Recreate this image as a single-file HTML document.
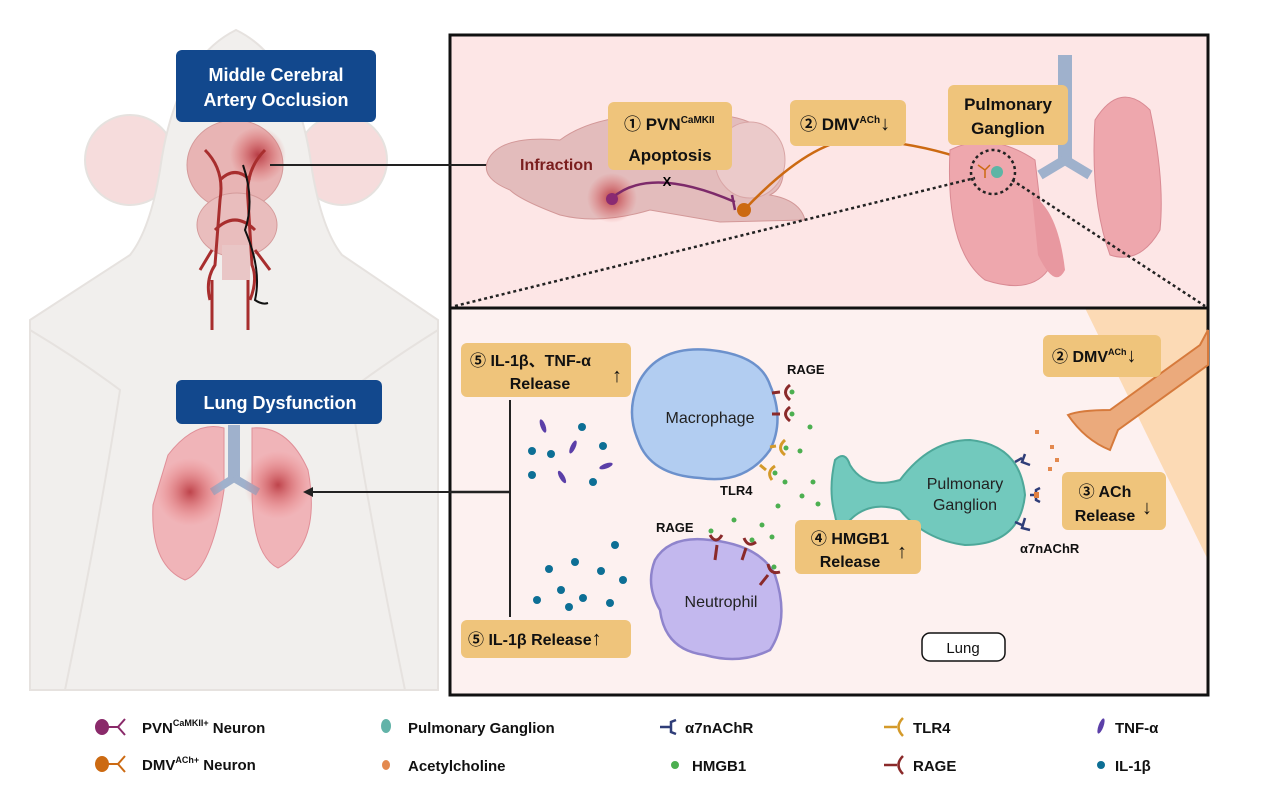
<!DOCTYPE html>
<html><head><meta charset="utf-8"><style>
html,body{margin:0;padding:0;background:#fff;}
svg{display:block;font-family:"Liberation Sans","Noto Sans CJK SC",sans-serif;}
.b{font-weight:bold;fill:#111;}
</style></head><body>
<svg width="1268" height="802" viewBox="0 0 1268 802" xmlns="http://www.w3.org/2000/svg">
<defs>
<radialGradient id="inf" cx="0.5" cy="0.5" r="0.5"><stop offset="0" stop-color="#b2303a" stop-opacity="0.9"/><stop offset="1" stop-color="#d55" stop-opacity="0"/></radialGradient>
<radialGradient id="lg" cx="0.5" cy="0.5" r="0.5"><stop offset="0" stop-color="#b53038" stop-opacity="0.85"/><stop offset="1" stop-color="#e77" stop-opacity="0"/></radialGradient>
</defs>
<!-- rat -->
<g fill="#f1efed" stroke="#e6e2df" stroke-width="2">
<circle cx="130" cy="160" r="45" fill="#f6dcdc"/>
<circle cx="342" cy="160" r="45" fill="#f6dcdc"/>
<path d="M30 320 L130 255 Q150 230 160 170 Q175 60 236 30 Q298 60 312 170 Q322 230 342 255 L438 320 L438 690 L30 690 Z"/>
<path d="M30 330 Q80 360 120 390 Q100 520 65 690" fill="none"/>
<path d="M438 330 Q390 360 350 390 Q370 520 405 690" fill="none"/>
</g>
<!-- brain top view -->
<ellipse cx="235" cy="165" rx="48" ry="45" fill="#e8b4b4" stroke="#d49a9a"/>
<ellipse cx="237" cy="225" rx="40" ry="32" fill="#e9bdbd" stroke="#d49a9a"/>
<rect x="222" y="245" width="28" height="35" fill="#e9c6c6"/>
<circle cx="258" cy="155" r="28" fill="url(#inf)"/>
<g stroke="#a82e2e" stroke-width="3" fill="none">
<path d="M210 300 Q205 280 215 265 L220 200 Q225 170 205 150"/>
<path d="M250 300 Q258 280 252 265 L248 200 Q245 170 265 150"/>
<path d="M215 230 Q235 210 255 230 M220 180 Q235 165 250 180 M212 250 L200 270 M255 250 L270 270"/>
<path d="M212 330 L212 280 M248 330 L248 280"/>
</g>
<path d="M243 165 Q255 200 245 230 Q262 270 255 300 Q262 305 268 303" stroke="#111" stroke-width="2" fill="none"/>
<!-- mouse lungs -->
<g>
<path d="M168 455 Q195 420 224 428 L224 490 Q212 570 185 580 Q150 565 153 505 Z" fill="#f0b4b8" stroke="#e08f98"/>
<path d="M252 428 Q288 425 308 470 Q322 545 278 568 Q252 555 252 490 Z" fill="#f0b4b8" stroke="#e08f98"/>
<rect x="228" y="425" width="12" height="55" fill="#9fb1cc"/>
<path d="M234 478 L212 492 M234 478 L258 492" stroke="#9fb1cc" stroke-width="8"/>
<circle cx="190" cy="492" r="34" fill="url(#lg)"/>
<circle cx="278" cy="485" r="34" fill="url(#lg)"/>
</g>
<!-- blue labels -->
<rect x="176" y="50" width="200" height="72" rx="6" fill="#12488d"/>
<text x="276" y="81" text-anchor="middle" font-size="18" font-weight="bold" fill="#fff">Middle Cerebral</text>
<text x="276" y="106" text-anchor="middle" font-size="18" font-weight="bold" fill="#fff">Artery Occlusion</text>
<rect x="176" y="380" width="206" height="44" rx="6" fill="#12488d"/>
<text x="280" y="409" text-anchor="middle" font-size="18" font-weight="bold" fill="#fff">Lung Dysfunction</text>

<!-- panels -->
<rect x="450" y="35" width="758" height="273" fill="#fde6e6"/>
<rect x="450" y="308" width="758" height="387" fill="#fdf1f0"/>
<path d="M1085 308 L1208 308 L1208 560 Z" fill="#fcdab5"/>
<rect x="450" y="35" width="758" height="660" fill="none" stroke="#111" stroke-width="3"/>
<line x1="450" y1="308" x2="1208" y2="308" stroke="#111" stroke-width="3"/>

<!-- arrows from rat -->
<line x1="270" y1="165" x2="512" y2="165" stroke="#222" stroke-width="2"/>
<path d="M518 165 L509 160 L509 170 Z" fill="#222"/>
<line x1="450" y1="492" x2="310" y2="492" stroke="#222" stroke-width="2"/>
<path d="M303 492 L313 487 L313 497 Z" fill="#222"/>
<line x1="450" y1="492" x2="510" y2="492" stroke="#222" stroke-width="2.5"/>
<line x1="510" y1="400" x2="510" y2="617" stroke="#222" stroke-width="2"/>

<!-- sagittal brain -->
<path d="M488 160 Q500 135 560 140 Q600 110 690 115 Q760 110 780 150 Q790 185 770 195 Q800 200 805 220 L720 222 L650 210 Q600 225 560 215 Q520 200 510 190 Q480 178 488 160 Z" fill="#e3bcbc" stroke="#d39898"/>
<ellipse cx="750" cy="160" rx="35" ry="38" fill="#ebcaca" stroke="#d9a6a6"/>
<circle cx="612" cy="198" r="25" fill="url(#inf)"/>
<path d="M612 198 Q650 165 735 202 M732 195 L735 210" stroke="#7d2a6a" stroke-width="2.5" fill="none"/>
<circle cx="612" cy="199" r="6" fill="#8a2a72"/>
<text x="667" y="186" text-anchor="middle" font-size="13" font-weight="bold">X</text>
<path d="M744 210 Q820 130 870 140 Q930 145 980 165" stroke="#cc6a12" stroke-width="2.5" fill="none"/>
<circle cx="744" cy="210" r="7" fill="#cc6a12"/>
<text x="520" y="170" font-size="16" font-weight="bold" fill="#7a1d1d">Infraction</text>

<!-- top lungs -->
<rect x="1058" y="55" width="14" height="110" fill="#9fb1cc"/>
<path d="M1065 160 L1040 175 M1065 160 L1090 175" stroke="#9fb1cc" stroke-width="10"/>
<path d="M950 150 Q990 130 1035 160 L1048 270 Q1030 295 985 280 Q945 250 950 150 Z" fill="#eea7ad" stroke="#d98a93"/>
<path d="M1032 195 Q1058 210 1065 270 Q1055 290 1038 255 Z" fill="#e898a0"/>
<path d="M1095 120 Q1120 80 1150 110 Q1165 180 1160 230 Q1140 265 1110 255 Q1090 200 1095 120 Z" fill="#eea7ad" stroke="#d98a93"/>
<circle cx="993" cy="172" r="22" fill="none" stroke="#222" stroke-width="2.5" stroke-dasharray="3,3"/>
<circle cx="997" cy="172" r="6" fill="#5db5a5"/>
<path d="M978 165 L985 170 L985 178 M985 170 L990 165" stroke="#cc6a12" stroke-width="1.5" fill="none"/>
<line x1="455" y1="306" x2="975" y2="178" stroke="#222" stroke-width="2.5" stroke-dasharray="3,3"/>
<line x1="1012" y1="180" x2="1205" y2="306" stroke="#222" stroke-width="2.5" stroke-dasharray="3,3"/>

<!-- top boxes -->
<rect x="608" y="102" width="124" height="68" rx="6" fill="#efc47b"/>
<text x="624" y="130" font-size="17" class="b">① PVN<tspan font-size="10" dy="-7">CaMKII</tspan></text>
<text x="670" y="161" text-anchor="middle" font-size="17" class="b">Apoptosis</text>
<rect x="790" y="100" width="116" height="46" rx="6" fill="#efc47b"/>
<text x="800" y="130" font-size="17" class="b">② DMV<tspan font-size="10" dy="-7">ACh</tspan><tspan dy="7" font-size="20">↓</tspan></text>
<rect x="948" y="85" width="120" height="60" rx="6" fill="#efc47b"/>
<text x="1008" y="110" text-anchor="middle" font-size="17" class="b">Pulmonary</text>
<text x="1008" y="134" text-anchor="middle" font-size="17" class="b">Ganglion</text>

<!-- bottom: nerve -->
<path d="M1208 330 L1200 345 L1110 410 Q1080 410 1068 415 Q1085 440 1110 450 L1118 430 L1208 365 Z" fill="#ebaa7c" stroke="#d67a3c" stroke-width="2"/>
<!-- macrophage -->
<path d="M640 380 Q660 345 710 350 Q760 355 770 385 Q785 420 770 450 Q745 485 700 478 Q650 475 638 440 Q625 410 640 380 Z" fill="#b2cdf1" stroke="#6c91cc" stroke-width="2.5"/>
<text x="710" y="423" text-anchor="middle" font-size="16" fill="#222">Macrophage</text>
<!-- neutrophil -->
<path d="M655 560 Q670 535 710 540 Q760 545 775 575 Q790 620 770 650 Q740 665 705 655 Q665 650 660 610 Q645 585 655 560 Z" fill="#c3b8ee" stroke="#8f84cc" stroke-width="2.5"/>
<text x="721" y="607" text-anchor="middle" font-size="16" fill="#222">Neutrophil</text>
<!-- ganglion -->
<path d="M835 460 Q845 450 850 465 Q865 490 900 480 Q930 440 970 440 Q1020 445 1025 495 Q1020 545 965 545 Q925 540 900 510 Q870 500 850 520 Q838 535 835 515 Q828 490 835 460 Z" fill="#72c9bd" stroke="#4ea89a" stroke-width="2"/>
<text x="965" y="489" text-anchor="middle" font-size="16" fill="#222">Pulmonary</text>
<text x="965" y="510" text-anchor="middle" font-size="16" fill="#222">Ganglion</text>
<g stroke="#2f3d78" stroke-width="2.5" fill="none">
<path d="M1015 462 L1022 458 M1025 454 L1022 462 L1030 465"/>
<path d="M1030 495 L1035 495 M1040 488 L1036 490 L1036 500 L1040 502"/>
<path d="M1015 522 L1022 525 M1025 518 L1022 528 L1030 530"/>
</g>
<rect x="1034" y="492" width="5" height="6" fill="#e08040"/>
<g fill="#e3894f">
<rect x="1035" y="430" width="4" height="4"/><rect x="1050" y="445" width="4" height="4"/><rect x="1055" y="458" width="4" height="4"/><rect x="1048" y="467" width="4" height="4"/>
</g>
<g stroke-width="3" fill="none">
<path d="M772 393 L780 392 M790 385 Q781 392 790 400" stroke="#8a2a2a"/>
<path d="M772 414 L780 414 M790 407 Q781 414 790 421" stroke="#8a2a2a"/>
<path d="M770 447 L776 446 M785 440 Q776 448 785 455" stroke="#d49a2a"/>
<path d="M760 465 L766 470 M775 466 Q766 472 772 480" stroke="#d49a2a"/>
<path d="M715 560 L717 545 M710 535 Q716 545 722 535" stroke="#8a2a2a"/>
<path d="M742 560 L746 548 M744 538 Q748 548 756 542" stroke="#8a2a2a"/>
<path d="M760 585 L768 575 M768 564 Q770 575 780 572" stroke="#8a2a2a"/>
</g>
<g fill="#4caf50">
<circle cx="792" cy="392" r="2.5"/><circle cx="792" cy="414" r="2.5"/><circle cx="786" cy="448" r="2.5"/><circle cx="775" cy="473" r="2.5"/>
<circle cx="711" cy="531" r="2.5"/><circle cx="752" cy="540" r="2.5"/><circle cx="774" cy="567" r="2.5"/>
<circle cx="810" cy="427" r="2.5"/><circle cx="800" cy="451" r="2.5"/><circle cx="785" cy="482" r="2.5"/><circle cx="813" cy="482" r="2.5"/>
<circle cx="802" cy="496" r="2.5"/><circle cx="818" cy="504" r="2.5"/><circle cx="778" cy="506" r="2.5"/><circle cx="734" cy="520" r="2.5"/>
<circle cx="762" cy="525" r="2.5"/><circle cx="772" cy="537" r="2.5"/>
</g>
<text x="787" y="374" font-size="13" class="b">RAGE</text>
<text x="720" y="495" font-size="13" class="b">TLR4</text>
<text x="656" y="532" font-size="13" class="b">RAGE</text>
<text x="1020" y="553" font-size="13" class="b">α7nAChR</text>
<g fill="#0d6f95">
<circle cx="582" cy="427" r="4"/><circle cx="532" cy="451" r="4"/><circle cx="551" cy="454" r="4"/><circle cx="603" cy="446" r="4"/>
<circle cx="532" cy="475" r="4"/><circle cx="593" cy="482" r="4"/>
<circle cx="615" cy="545" r="4"/><circle cx="549" cy="569" r="4"/><circle cx="575" cy="562" r="4"/><circle cx="601" cy="571" r="4"/>
<circle cx="623" cy="580" r="4"/><circle cx="561" cy="590" r="4"/><circle cx="583" cy="598" r="4"/><circle cx="537" cy="600" r="4"/>
<circle cx="610" cy="603" r="4"/><circle cx="569" cy="607" r="4"/>
</g>
<g fill="#5b3fa8">
<ellipse cx="543" cy="426" rx="2.5" ry="7" transform="rotate(-20 543 426)"/>
<ellipse cx="573" cy="447" rx="2.5" ry="7" transform="rotate(25 573 447)"/>
<ellipse cx="606" cy="466" rx="2.5" ry="7" transform="rotate(70 606 466)"/>
<ellipse cx="562" cy="477" rx="2.5" ry="7" transform="rotate(-30 562 477)"/>
</g>
<rect x="461" y="343" width="170" height="54" rx="6" fill="#efc47b"/>
<text x="470" y="366" font-size="16" class="b">⑤ IL-1β、TNF-α</text>
<text x="540" y="389" text-anchor="middle" font-size="16" class="b">Release</text>
<text x="612" y="382" font-size="20" class="b">↑</text>
<rect x="461" y="620" width="170" height="38" rx="6" fill="#efc47b"/>
<text x="468" y="645" font-size="16" class="b">⑤ IL-1β Release<tspan font-size="20">↑</tspan></text>
<rect x="1043" y="335" width="118" height="42" rx="6" fill="#efc47b"/>
<text x="1052" y="362" font-size="16" class="b">② DMV<tspan font-size="9" dy="-7">ACh</tspan><tspan dy="7" font-size="20">↓</tspan></text>
<rect x="1062" y="472" width="104" height="58" rx="6" fill="#efc47b"/>
<text x="1105" y="497" text-anchor="middle" font-size="16" class="b">③ ACh</text>
<text x="1105" y="521" text-anchor="middle" font-size="16" class="b">Release</text>
<text x="1142" y="514" font-size="20" class="b">↓</text>
<rect x="795" y="520" width="126" height="54" rx="6" fill="#efc47b"/>
<text x="850" y="544" text-anchor="middle" font-size="16" class="b">④ HMGB1</text>
<text x="850" y="567" text-anchor="middle" font-size="16" class="b">Release</text>
<text x="897" y="558" font-size="20" class="b">↑</text>
<rect x="922" y="633" width="83" height="28" rx="8" fill="#fff" stroke="#111" stroke-width="1.5"/>
<text x="963" y="653" text-anchor="middle" font-size="15" fill="#111">Lung</text>

<!-- legend -->
<g font-size="15" font-weight="bold" fill="#111">
<ellipse cx="102" cy="727" rx="7" ry="8" fill="#8a2a6a"/><path d="M108 727 L118 727 M125 719 L118 727 L125 735" stroke="#8a2a6a" stroke-width="2" fill="none"/>
<text x="142" y="733">PVN<tspan font-size="9" dy="-7">CaMKII+</tspan><tspan dy="7"> Neuron</tspan></text>
<ellipse cx="102" cy="764" rx="7" ry="8" fill="#cc6a12"/><path d="M108 764 L118 764 M125 756 L118 764 L125 772" stroke="#cc6a12" stroke-width="2" fill="none"/>
<text x="142" y="770">DMV<tspan font-size="9" dy="-7">ACh+</tspan><tspan dy="7"> Neuron</tspan></text>
<ellipse cx="386" cy="726" rx="5" ry="7" fill="#62b3a8"/>
<text x="408" y="733">Pulmonary Ganglion</text>
<ellipse cx="386" cy="765" rx="4" ry="5" fill="#e3894f"/>
<text x="408" y="771">Acetylcholine</text>
<path d="M660 727 L670 727 M676 720 L671 722 L671 732 L676 734" stroke="#2f3d78" stroke-width="2.5" fill="none"/>
<text x="685" y="733">α7nAChR</text>
<circle cx="675" cy="765" r="4" fill="#4caf50"/>
<text x="692" y="771">HMGB1</text>
<path d="M884 727 L897 727 M903 718 Q894 727 903 736" stroke="#d49a2a" stroke-width="2.5" fill="none"/>
<text x="913" y="733">TLR4</text>
<path d="M884 765 L897 765 M903 756 Q894 765 903 774" stroke="#8a2a2a" stroke-width="2.5" fill="none"/>
<text x="913" y="771">RAGE</text>
<ellipse cx="1101" cy="726" rx="2.5" ry="8" fill="#5b3fa8" transform="rotate(20 1101 726)"/>
<text x="1115" y="733">TNF-α</text>
<circle cx="1101" cy="765" r="4" fill="#0d6f95"/>
<text x="1115" y="771">IL-1β</text>
</g>
</svg>
</body></html>
